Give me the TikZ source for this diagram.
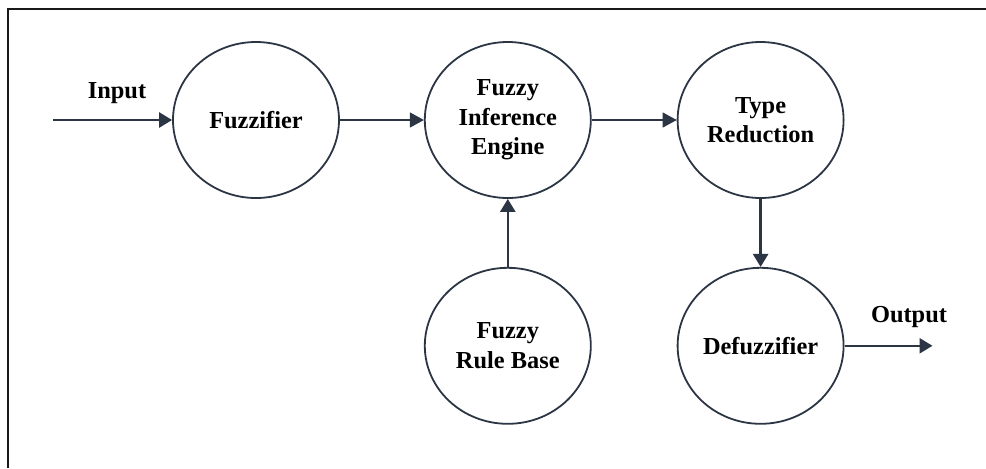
\documentclass[tikz,border=0pt]{standalone}
\usepackage{fontspec}
\setmainfont{Liberation Serif}
\usetikzlibrary{shapes.geometric, arrows.meta, positioning}
\definecolor{edgeblue}{HTML}{2B3544}

\begin{document}
\begin{tikzpicture}[
    x=0.5pt, y=-0.5pt,
    node distance=34pt and 43pt,
    stage/.style={ellipse, draw=edgeblue, line width=0.9pt, minimum width=83pt, minimum height=78pt, inner sep=0pt, align=center, font=\fontsize{12.2}{14.8}\selectfont\bfseries},
    iolabel/.style={font=\fontsize{12.2}{14.8}\selectfont\bfseries},
    arr/.style={-{Triangle[length=6.5pt, width=7.5pt]}, edgeblue, line width=1.3pt},
    thinarr/.style={-{Triangle[length=7pt, width=7.5pt]}, edgeblue, line width=0.55pt},
]
\useasboundingbox (0,0) rectangle (986,468);

% outer frame (top and left edges)
\draw[line width=1.4pt, black!90] (8,468) -- (8,9) -- (986,9);

% stages
\node[stage] (fuzz) at (256,120) {Fuzzifier};
\node[stage, right=42pt of fuzz] (fie) {Fuzzy\\Inference\\Engine};
\node[stage, right=42.5pt of fie] (tr) {Type\\Reduction};
\node[stage, below=34pt of fie] (frb) {Fuzzy\\Rule Base};
\node[stage, below=34pt of tr] (defuzz) {Defuzzifier};

% input / output
\coordinate (in) at (53,120);
\coordinate[right=44pt of defuzz] (out);
\node[iolabel] (inlabel) at (117,93) {Input};
\node[iolabel] (outlabel) at (909,317) {Output};

% connections
\draw[arr] (in) -- (fuzz);
\draw[thinarr] (fuzz) -- (fie);
\draw[thinarr] (fie) -- (tr);
\draw[arr] (frb) -- (fie);
\draw[arr] (tr) -- (defuzz);
\draw[arr] (defuzz) -- (out);

\end{tikzpicture}
\end{document}
